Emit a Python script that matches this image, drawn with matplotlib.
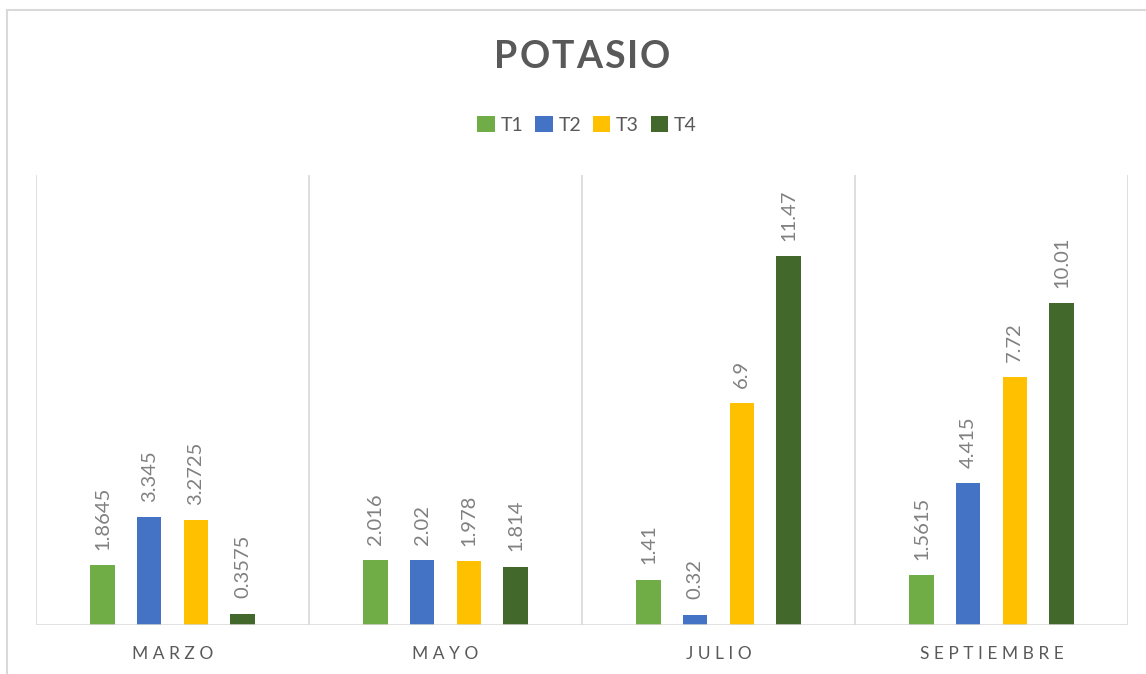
import matplotlib.pyplot as plt
from matplotlib.lines import Line2D
from matplotlib.patches import Patch
import numpy as np

plt.rcParams['font.family'] = ['Lato', 'DejaVu Sans']

months = ['MARZO', 'MAYO', 'JULIO', 'SEPTIEMBRE']
series = ['T1', 'T2', 'T3', 'T4']
t1 = [1.8645, 2.016, 1.41, 1.5615]
t2 = [3.345, 2.02, 0.32, 4.415]
t3 = [3.2725, 1.978, 6.9, 7.72]
t4 = [0.3575, 1.814, 11.47, 10.01]
labels = [['1.8645', '2.016', '1.41', '1.5615'],
          ['3.345', '2.02', '0.32', '4.415'],
          ['3.2725', '1.978', '6.9', '7.72'],
          ['0.3575', '1.814', '11.47', '10.01']]
colors = ['#70AD47', '#4472C4', '#FFC000', '#43682B']

W, H = 1146, 674
fig = plt.figure(figsize=(W / 100, H / 100), dpi=100)
ax = fig.add_axes([36 / W, (H - 625) / H, 1092 / W, 450 / H])

x = np.arange(len(months))
step = 0.171
width = 0.09
for i, vals in enumerate([t1, t2, t3, t4]):
    pos = x + (i - 1.5) * step
    ax.bar(pos, vals, width=width, color=colors[i], zorder=3)
    for px, v, lab in zip(pos, vals, labels[i]):
        ax.annotate(lab, (px, v), xytext=(0, 11), textcoords='offset points',
                    rotation=90, ha='center', va='bottom', fontsize=14.5,
                    color='#808080')

ax.set_xlim(-0.5, len(months) - 0.5)
ax.set_ylim(0, 14)
for b in np.arange(-0.5, len(months), 1.0):
    ax.axvline(b, color='#d9d9d9', lw=1.2, zorder=1)
ax.axhline(0, color='#d9d9d9', lw=1.8, zorder=4)
for s in ax.spines.values():
    s.set_visible(False)
ax.set_yticks([])
ax.set_xticks(x)
ax.set_xticklabels([' '.join(m) for m in months], fontsize=12.5, color='#595959')
ax.tick_params(axis='x', length=0, pad=15)

# title with letter spacing
title = 'POTASIO'
track = 2
renderer = fig.canvas.get_renderer()
parts = []
for ch in title:
    t = fig.text(0, 1 - 57 / H, ch, ha='left', va='center', fontsize=27,
                 fontweight='bold', color='#595959')
    parts.append((t, t.get_window_extent(renderer).width))
total = sum(w for _, w in parts) + track * (len(parts) - 1)
cur = 582 - total / 2
for t, w in parts:
    t.set_x(cur / W)
    cur += w + track

handles = [Patch(facecolor=c, edgecolor='none') for c in colors]
fig.legend(handles, series, loc='center', bbox_to_anchor=(587 / W, 1 - 125 / H),
           ncol=4, frameon=False, fontsize=14, handlelength=0.9, handleheight=0.9,
           handletextpad=0.3, columnspacing=0.6, labelcolor='#595959')

fig.add_artist(Line2D([7 / W, 7 / W], [0, 1 - 10 / H], color='#d9d9d9', lw=1.5))
fig.add_artist(Line2D([7 / W, 1], [1 - 10 / H, 1 - 10 / H], color='#d9d9d9', lw=1.5))

fig.savefig('out.png', dpi=100)
